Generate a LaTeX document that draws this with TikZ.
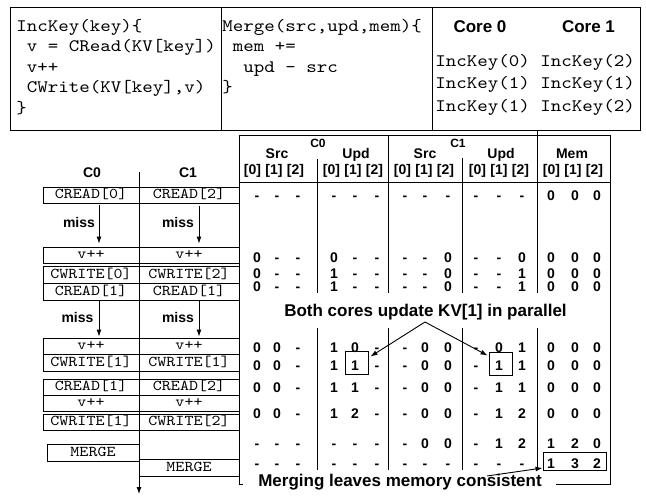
\documentclass[tikz,border=0pt]{standalone}
\usepackage{fontspec}
\setmainfont{Liberation Sans}
\newfontfamily\monof{lmmono10-regular.otf}[FakeStretch=1.143]
\usetikzlibrary{arrows.meta,calc}
\begin{document}
\begin{tikzpicture}[x=1pt,y=-1pt, line width=0.9pt,
  code/.style={font=\monof\fontsize{17.5}{20}\selectfont, inner sep=0pt, anchor=base west},
  hdr/.style={font=\bfseries\fontsize{17}{20}\selectfont, inner sep=0pt},
  cell/.style={draw, minimum height=16pt, inner sep=0pt, font=\monof\fontsize{15}{16}\selectfont, text height=9pt, text depth=2pt},
  cza/.style={cell, minimum width=96pt},
  czb/.style={cell, minimum width=100pt},
  lbl/.style={font=\bfseries\fontsize{14}{16}\selectfont, inner sep=0pt, text height=10pt, text depth=0pt},
  dat/.style={font=\bfseries\fontsize{14}{16}\selectfont, inner sep=0pt, text height=10pt, text depth=0pt},
  small/.style={font=\bfseries\fontsize{12}{13}\selectfont, inner sep=0pt},
  big/.style={font=\bfseries\fontsize{17}{20}\selectfont, inner sep=0pt},
  hl/.style={draw, inner sep=0pt},
  arr/.style={-{Latex[length=7pt,width=5pt]}},
]
\useasboundingbox (0,0) rectangle (646,496);

% ---- top code panel
\draw (10,7) rectangle (640,130);
\draw (221,7) -- (221,130);
\draw (432,7) -- (432,130);

\node[code] (inc1) at (16,31.5) {IncKey(key)\{};
\node[code] (inc2) at (16,51.9) {\hphantom{x}v = CRead(KV[key])};
\node[code] (inc3) at (16,72.3) {\hphantom{x}v++};
\node[code] (inc4) at (16,92.7) {\hphantom{x}CWrite(KV[key],v)};
\node[code] (inc5) at (16,113.1) {\}};

\node[code] (mg1) at (222,31.5) {Merge(src,upd,mem)\{};
\node[code] (mg2) at (222,51.9) {\hphantom{x}mem +=};
\node[code] (mg3) at (222,72.3) {\hphantom{xx}upd - src};
\node[code] (mg4) at (222,92.7) {\}};

\node[hdr] (core0) at (480,26.5) {Core 0};
\node[hdr] (core1) at (588.5,26.5) {Core 1};
\node[code] (k1) at (435,66) {IncKey(0) IncKey(2)};
\node[code] (k2) at (435,88.5) {IncKey(1) IncKey(1)};
\node[code] (k3) at (435,111) {IncKey(1) IncKey(2)};

% ---- left timeline
\node[lbl] (hc0) at (92,172) {C0};
\node[lbl] (hc1) at (188,172) {C1};
\coordinate (tltop) at (139,172);
\coordinate (tlbot) at (139,494);
\draw[arr] (tltop) -- (tlbot);

\node[cza] (a1) at (91,195) {CREAD[0]};
\node[czb] (b1) at (189,195) {CREAD[2]};
\node[cza] (a2) at (91,255) {v++};
\node[czb] (b2) at (189,255) {v++};
\node[cza, minimum height=17pt] (a3) at (91,274.5) {CWRITE[0]};
\node[czb, minimum height=17pt] (b3) at (189,274.5) {CWRITE[2]};
\node[cza, minimum height=17pt] (a4) at (91,291.5) {CREAD[1]};
\node[czb, minimum height=17pt] (b4) at (189,291.5) {CREAD[1]};
\node[cza] (a5) at (91,346) {v++};
\node[czb] (b5) at (189,346) {v++};
\node[cza, minimum height=17pt] (a6) at (91,362.5) {CWRITE[1]};
\node[czb, minimum height=17pt] (b6) at (189,362.5) {CWRITE[1]};
\node[cza] (a7) at (91,387) {CREAD[1]};
\node[czb] (b7) at (189,387) {CREAD[2]};
\node[cza] (a8) at (91,403) {v++};
\node[czb] (b8) at (189,403) {v++};
\node[cza] (a9) at (91,422) {CWRITE[1]};
\node[czb] (b9) at (189,422) {CWRITE[2]};
\node[cell, minimum width=92pt, minimum height=17pt] (a10) at (93,452.5) {MERGE};
\node[czb, minimum height=17pt] (b10) at (189,467.5) {MERGE};

\draw[arr, shorten <=2pt, shorten >=3pt] ([xshift=8pt]a1.south) -- ([xshift=8pt]a2.north);
\draw[arr, shorten <=3pt, shorten >=3pt] ([xshift=10pt]b1.south) -- ([xshift=10pt]b2.north);
\draw[arr, shorten >=1pt] ([xshift=8pt]a4.south) -- ([xshift=8pt]a5.north);
\draw[arr, shorten >=1pt] ([xshift=10pt]b4.south) -- ([xshift=10pt]b5.north);
\node[lbl] (miss1) at (79,222) {miss};
\node[lbl] (miss2) at (178,222) {miss};
\node[lbl] (miss3) at (77.5,317) {miss};
\node[lbl] (miss4) at (178,317) {miss};

% ---- state table
\draw (239,484) -- (239,135) -- (610,135) -- (610,484) -- (556,484);
\draw (239,484) -- (243,484);
\draw (239,182) -- (610,182);
\foreach \x/\t in {317/159, 388/135, 462/158, 537/130} {
  \draw (\x,\t) -- (\x,293);
  \draw (\x,328) -- (\x,470);
}

\node[small] (tc0) at (318,143.5) {C0};
\node[small] (tc1) at (458,143.5) {C1};
\node[lbl] (hs0) at (277,153) {Src};
\node[lbl] (hu0) at (356,153) {Upd};
\node[lbl] (hs1) at (425,153) {Src};
\node[lbl] (hu1) at (501,153) {Upd};
\node[lbl] (hm) at (572,153) {Mem};
\foreach \g [count=\i] in {274,353,424,499,573} {
  \node[lbl] (ix\i-0) at (\g-21.5,169) {[0]};
  \node[lbl] (ix\i-1) at (\g,169) {[1]};
  \node[lbl] (ix\i-2) at (\g+21.5,169) {[2]};
}

\foreach \yy/\vals [count=\r] in {
  195/{-,-,-,-,-,-,-,-,-,-,-,-,0,0,0},
  257/{0,-,-,0,-,-,-,-,0,-,-,0,0,0,0},
  273/{0,-,-,1,-,-,-,-,0,-,-,1,0,0,0},
  286/{0,-,-,1,-,-,-,-,0,-,-,1,0,0,0},
  347/{0,0,-,1,0,-,-,0,0,-,0,1,0,0,0},
  365/{0,0,-,1,1,-,-,0,0,-,1,1,0,0,0},
  387/{0,0,-,1,1,-,-,0,0,-,1,1,0,0,0},
  413/{0,0,-,1,2,-,-,0,0,-,1,2,0,0,0},
  443/{-,-,-,-,-,-,-,0,0,-,1,2,1,2,0},
  463/{-,-,-,-,-,-,-,-,-,-,-,-,1,3,2}} {
  \foreach \v [count=\c] in \vals {
    \pgfmathsetmacro{\xx}{{257,277,298,334,355,377,405,425,448,476,499,522,551,575,597}[\c-1]}
    \node[dat] (d\r-\c) at (\xx,\yy) {\v};
  }
}

\node[hl, minimum width=23pt, minimum height=23pt] (bx0) at (356.5,362.5) {};
\node[hl, minimum width=23pt, minimum height=23pt] (bx1) at (500.5,363.5) {};
\node[hl, minimum width=63pt, minimum height=18pt] (bx2) at (574.5,461) {};

\node[big] (both) at (425.5,312) {Both cores update KV[1] in parallel};
\coordinate (bsrc) at (425,322);
\draw[arr] (bsrc) -- ([xshift=2pt,yshift=6pt]bx0.east);
\draw[arr] (bsrc) -- ([xshift=-1pt,yshift=8pt]bx1.west);

\node[big] (mrg) at (400,482.5) {Merging leaves memory consistent};
\coordinate (msrc) at (487,476);
\draw[arr] (msrc) -- ([yshift=-7pt]bx2.west);
\end{tikzpicture}
\end{document}
